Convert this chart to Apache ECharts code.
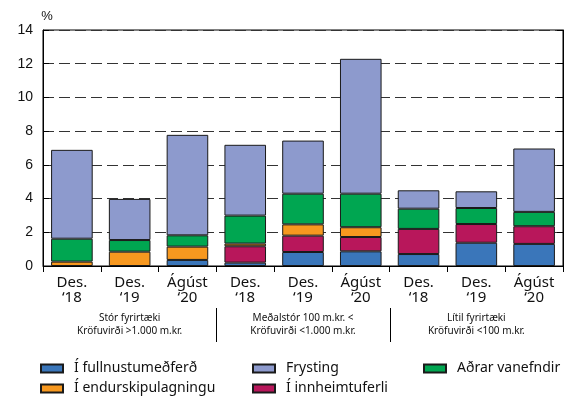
<!DOCTYPE html>
<html lang="is">
<head>
    <meta charset="UTF-8">
    <title>Vanefndir</title>
    <script type="text/javascript" src="https://cdn.jsdelivr.net/npm/echarts@6/dist/echarts.min.js"></script>
    <style>
        body { margin: 0; background: #fff; }
    </style>
</head>
<body>
<div id="main" style="width: 566px; height: 397px;"></div>

<script>
    // flokkar og gildi (%)
    var categories = ['Des.\n\u201818', 'Des.\n\u201819', 'Ágúst\n\u201820',
                      'Des.\n\u201818', 'Des.\n\u201819', 'Ágúst\n\u201820',
                      'Des.\n\u201818', 'Des.\n\u201819', 'Ágúst\n\u201820'];
    var groups = ['Stór fyrirtæki\nKröfuvirði >1.000 m.kr.',
                  'Meðalstór 100 m.kr. <\nKröfuvirði <1.000 m.kr.',
                  'Lítil fyrirtæki\nKröfuvirði <100 m.kr.'];

    var fullnustu   = [null, null, 0.36, 0.20, 0.83, 0.87, 0.71, 1.38, 1.31];
    var innheimtu   = [null, null, null, 0.97, 0.97, 0.85, 1.49, 1.11, 1.05];
    var endurskip   = [0.26, 0.85, 0.79, 0.16, 0.67, 0.58, null, null, null];
    var adrar       = [1.36, 0.69, 0.67, 1.66, 1.82, 1.99, 1.20, 0.95, 0.85];
    var frysting    = [5.27, 2.44, 5.96, 4.20, 3.15, 8.00, 1.09, 0.99, 3.76];

    var yTicks = [0, 2, 4, 6, 8, 10, 12, 14];

    var myChart = echarts.init(document.getElementById('main'));

    function bar(name, data, color) {
        return {
            name: name,
            type: 'bar',
            stack: 'a',
            data: data,
            barCategoryGap: '28%',
            itemStyle: { color: color, borderColor: '#1a1a1a', borderWidth: 1 }
        };
    }

    var legendText = { fontFamily: 'Noto Sans', fontSize: 14, lineHeight: 17, color: '#111',
                       padding: [0, 0, 0, 6] };

    function legendCol(items, left) {
        return {
            data: items, orient: 'vertical', left: left, top: 360, height: 38,
            padding: 0, itemWidth: 22, itemHeight: 8, itemGap: 3,
            textStyle: legendText, icon: 'rect'
        };
    }

    var option = {
        animation: false,
        grid: {
            left: 43, right: 3, top: 30, bottom: 131,
            show: true, borderColor: '#000', borderWidth: 1
        },
        legend: [
            legendCol(['Í fullnustumeðferð', 'Í endurskipulagningu'], 40),
            legendCol(['Frysting', 'Í innheimtuferli'], 252),
            legendCol(['Aðrar vanefndir'], 423)
        ],
        xAxis: [
            {
                type: 'category',
                position: 'bottom',
                data: categories,
                axisLine: { lineStyle: { color: '#000' } },
                axisTick: { show: true, length: 6, lineStyle: { color: '#000' } },
                axisLabel: { interval: 0, margin: 9, fontFamily: 'Noto Sans', fontSize: 15,
                             lineHeight: 15, color: '#111' }
            },
            {
                type: 'category',
                position: 'bottom',
                data: groups,
                axisLine: { show: false },
                axisTick: { show: false },
                splitLine: { show: false },
                axisLabel: { interval: 0, margin: 46, fontFamily: 'Noto Sans', fontSize: 10,
                             lineHeight: 13, color: '#111' }
            }
        ],
        yAxis: [
            {
                type: 'value',
                min: 0, max: 14, interval: 2,
                name: '%',
                nameLocation: 'end',
                nameGap: 7,
                nameTextStyle: { fontFamily: 'Liberation Sans', fontSize: 13, color: '#111', padding: [0, 0, 0, 8] },
                axisLine: { show: true, lineStyle: { color: '#000' } },
                axisTick: { show: true, inside: true, length: 6, lineStyle: { color: '#000' } },
                axisLabel: { margin: 10, fontFamily: 'Liberation Sans', fontSize: 14, color: '#111',
                             formatter: function (v) { return yTicks.indexOf(v) >= 0 ? v : ''; } },
                splitLine: { show: true, lineStyle: { color: '#333', type: [11, 5], width: 1 } }
            },
            {
                type: 'value',
                position: 'right',
                min: 0, max: 14, interval: 2,
                axisLine: { show: true, lineStyle: { color: '#000' } },
                axisTick: { show: true, inside: true, length: 6, lineStyle: { color: '#000' } },
                axisLabel: { show: false },
                splitLine: { show: false }
            }
        ],
        series: [
            bar('Í fullnustumeðferð', fullnustu, '#3a76ba'),
            bar('Í innheimtuferli', innheimtu, '#b8175b'),
            bar('Í endurskipulagningu', endurskip, '#f7981f'),
            bar('Aðrar vanefndir', adrar, '#00a651'),
            bar('Frysting', frysting, '#8d9acd')
        ]
    };

    myChart.setOption(option);

    // lóðréttar línur milli hópa
    var lines = [];
    [3, 6].forEach(function (i) {
        var x = (myChart.convertToPixel({ xAxisIndex: 0 }, i - 1) + myChart.convertToPixel({ xAxisIndex: 0 }, i)) / 2;
        lines.push({
            type: 'line',
            shape: { x1: Math.round(x) + 0.5, y1: 308, x2: Math.round(x) + 0.5, y2: 342 },
            style: { stroke: '#000', lineWidth: 1 }
        });
    });
    myChart.setOption({ graphic: lines });
</script>
</body>
</html>
